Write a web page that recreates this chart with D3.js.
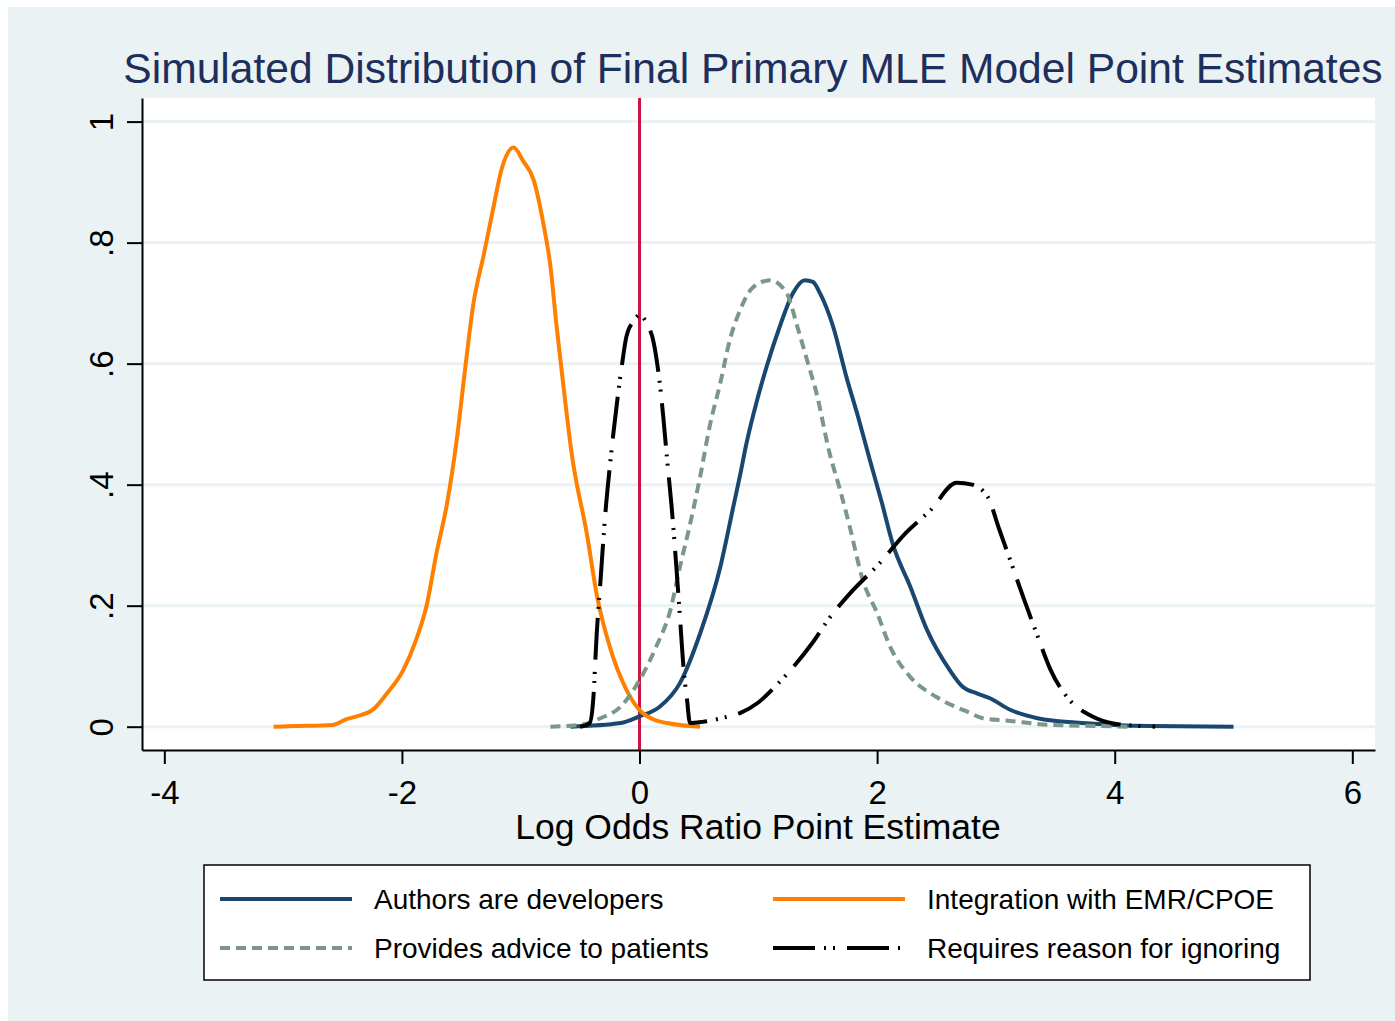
<!DOCTYPE html>
<meta charset="utf-8">
<style>
  body { margin: 0; background: #fff; }
  svg text { font-family: "Liberation Sans", Arial, sans-serif; }
</style>
<body></body>
<script src="https://d3js.org/d3.v7.min.js"></script>
<script>

const width = 1395, height = 1021;

// density estimates
const authorsX = [-0.58,-0.16,0,0.17,0.34,0.51,0.68,0.79,0.85,0.9,0.99,1.07,1.18,1.29,1.39,1.46,1.52,1.63,1.74,1.84,1.94,2.04,2.13,2.28,2.42,2.61,2.72,2.84,2.95,3.12,3.35,3.73,4.3,5.0];
const authorsY = [0,0.006,0.017,0.033,0.072,0.154,0.264,0.364,0.419,0.468,0.54,0.595,0.661,0.716,0.738,0.735,0.716,0.661,0.579,0.512,0.44,0.37,0.303,0.231,0.16,0.094,0.066,0.055,0.047,0.028,0.014,0.006,0.001,0];

const emrX = [-3.08,-2.91,-2.58,-2.46,-2.38,-2.24,-2.13,-1.99,-1.88,-1.79,-1.71,-1.62,-1.54,-1.47,-1.40,-1.31,-1.23,-1.16,-1.06,-0.98,-0.89,-0.81,-0.75,-0.70,-0.64,-0.57,-0.44,-0.36,-0.25,-0.11,0.03,0.23,0.51];
const emrY = [0,0.001,0.003,0.013,0.017,0.029,0.054,0.093,0.144,0.202,0.286,0.369,0.472,0.588,0.697,0.781,0.858,0.922,0.957,0.935,0.903,0.832,0.761,0.665,0.562,0.45,0.315,0.218,0.132,0.061,0.022,0.006,0];

const adviceX = [-0.75,-0.5,-0.33,-0.16,0,0.14,0.26,0.34,0.42,0.51,0.59,0.68,0.76,0.85,0.95,1.10,1.24,1.33,1.41,1.49,1.60,1.69,1.77,1.88,2.0,2.11,2.28,2.5,2.78,2.89,3.1,3.46,3.9,4.13];
const adviceY = [0,0.003,0.014,0.033,0.077,0.132,0.193,0.264,0.33,0.413,0.496,0.568,0.639,0.69,0.725,0.738,0.716,0.66,0.606,0.551,0.452,0.39,0.33,0.242,0.188,0.132,0.082,0.049,0.023,0.014,0.01,0.003,0.001,0];

const reasonX = [-0.5,-0.42,-0.39,-0.36,-0.33,-0.29,-0.25,-0.22,-0.18,-0.15,-0.11,-0.05,0,0.06,0.12,0.16,0.2,0.23,0.27,0.31,0.34,0.37,0.4,0.425,0.53,0.73,0.85,1.0,1.15,1.3,1.45,1.6,1.77,2.02,2.24,2.45,2.67,2.8,2.93,3.03,3.13,3.23,3.35,3.46,3.62,3.8,4.0,4.34];
const reasonY = [0,0.006,0.044,0.155,0.237,0.347,0.43,0.485,0.551,0.595,0.645,0.67,0.68,0.667,0.634,0.584,0.512,0.446,0.364,0.264,0.182,0.099,0.044,0.006,0.008,0.016,0.023,0.04,0.068,0.1,0.137,0.18,0.22,0.27,0.32,0.358,0.403,0.4,0.38,0.325,0.27,0.214,0.15,0.094,0.044,0.018,0.005,0];

const seriesNames = ["Authors are developers", "Integration with EMR/CPOE",
                     "Provides advice to patients", "Requires reason for ignoring"];

const xTicks = [-4, -2, 0, 2, 4, 6];
const xTickLabels = ["-4", "-2", "0", "2", "4", "6"];
const yTicks = [0, 0.2, 0.4, 0.6, 0.8, 1];
const yTickLabels = ["0", ".2", ".4", ".6", ".8", "1"];

const titleText = "Simulated Distribution of Final Primary MLE Model Point Estimates";
const xTitle = "Log Odds Ratio Point Estimate";

// plot region
const plot = {left: 142, right: 1375, top: 98, bottom: 750};

const x = d3.scaleLinear().domain([-4.188, 6.191]).range([plot.left, plot.right]);
const y = d3.scaleLinear().domain([-0.0385, 1.039]).range([plot.bottom, plot.top]);

const svg = d3.select("body").append("svg")
    .attr("width", width)
    .attr("height", height);

svg.append("rect").attr("width", width).attr("height", height).attr("fill", "#fff");
svg.append("rect")
    .attr("x", 8).attr("y", 7)
    .attr("width", width - 8).attr("height", height - 7)
    .attr("fill", "#eaf2f3");

svg.append("rect")
    .attr("x", plot.left).attr("y", plot.top)
    .attr("width", plot.right - plot.left).attr("height", plot.bottom - plot.top)
    .attr("fill", "#fff");

// grid
svg.append("g")
  .selectAll("line")
  .data(yTicks)
  .join("line")
    .attr("x1", plot.left).attr("x2", plot.right)
    .attr("y1", d => y(d)).attr("y2", d => y(d))
    .attr("stroke", "#eaf2f3")
    .attr("stroke-width", 3);

// title
svg.append("text")
    .attr("x", 753).attr("y", 83)
    .attr("text-anchor", "middle")
    .attr("font-size", 42.6)
    .attr("fill", "#1f2f5c")
    .text(titleText);

// xline at 0
svg.append("line")
    .attr("x1", x(0)).attr("x2", x(0))
    .attr("y1", plot.top).attr("y2", plot.bottom)
    .attr("stroke", "#cc1444")
    .attr("stroke-width", 3);

const series = [
  {xs: authorsX, ys: authorsY, color: "#1a476f", dash: null},
  {xs: emrX, ys: emrY, color: "#ff8000", dash: null},
  {xs: adviceX, ys: adviceY, color: "#7b978a", dash: "10 6"},
  {xs: reasonX, ys: reasonY, color: "#000", dash: "42 9 2 7 2 12"}
];

const line = d3.line()
    .x(d => x(d[0]))
    .y(d => y(d[1]))
    .curve(d3.curveMonotoneX);

svg.append("g")
    .attr("fill", "none")
    .attr("stroke-linejoin", "round")
  .selectAll("path")
  .data(series)
  .join("path")
    .attr("d", s => line(d3.zip(s.xs, s.ys)))
    .attr("stroke", s => s.color)
    .attr("stroke-width", 4)
    .attr("stroke-dasharray", s => s.dash);

// axes
const yAxis = svg.append("g")
    .attr("transform", `translate(${plot.left},0)`)
    .call(d3.axisLeft(y).tickValues(yTicks).tickSize(15).tickSizeOuter(0)
      .tickFormat((d, i) => yTickLabels[i]));

yAxis.selectAll("text")
    .attr("x", null).attr("dy", null)
    .attr("transform", "translate(-29,0) rotate(-90)")
    .attr("text-anchor", "middle");

const xAxis = svg.append("g")
    .attr("transform", `translate(0,${plot.bottom})`)
    .call(d3.axisBottom(x).tickValues(xTicks).tickSize(14).tickSizeOuter(0)
      .tickFormat((d, i) => xTickLabels[i]));

xAxis.selectAll("text").attr("y", 54).attr("dy", null);

svg.selectAll(".domain, .tick line").attr("stroke", "#000").attr("stroke-width", 2);
svg.selectAll(".tick text")
    .attr("fill", "#000")
    .attr("font-size", 33)
    .attr("font-family", "Liberation Sans, Arial, sans-serif");

svg.append("text")
    .attr("x", 758).attr("y", 839)
    .attr("text-anchor", "middle")
    .attr("font-size", 35.5)
    .text(xTitle);

// legend
const legend = svg.append("g");
legend.append("rect")
    .attr("x", 204).attr("y", 865)
    .attr("width", 1106).attr("height", 115)
    .attr("fill", "#fff")
    .attr("stroke", "#000")
    .attr("stroke-width", 1.5);

const legendCols = [220, 773];
const legendRows = [899, 948];

const items = legend.selectAll("g.item")
  .data(series)
  .join("g")
    .attr("class", "item")
    .attr("transform", (d, i) => `translate(${legendCols[i % 2]},${legendRows[Math.floor(i / 2)]})`);

items.append("line")
    .attr("x1", 0).attr("x2", 132)
    .attr("stroke", d => d.color)
    .attr("stroke-width", 4)
    .attr("stroke-dasharray", d => d.dash);

items.append("text")
    .attr("x", 154).attr("y", 10)
    .attr("font-size", 28)
    .text((d, i) => seriesNames[i]);

</script>
